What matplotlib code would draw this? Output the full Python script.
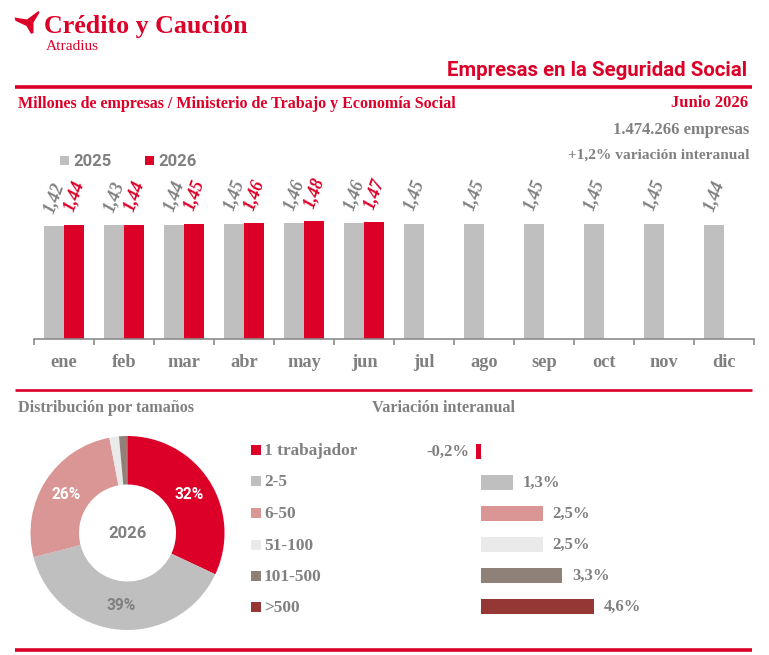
import matplotlib
matplotlib.use('Agg')
import matplotlib.pyplot as plt
from matplotlib.patches import Rectangle, Polygon
from matplotlib.lines import Line2D
from matplotlib.transforms import blended_transform_factory
import numpy as np

# ---------------- data ----------------
months = ['ene', 'feb', 'mar', 'abr', 'may', 'jun', 'jul', 'ago', 'sep', 'oct', 'nov', 'dic']
v2025 = [1.42, 1.43, 1.44, 1.45, 1.46, 1.46, 1.45, 1.45, 1.45, 1.45, 1.45, 1.44]
v2026 = [1.44, 1.44, 1.45, 1.46, 1.48, 1.47]
series_names = ['2025', '2026']
size_labels = ['1 trabajador', '2-5', '6-50', '51-100', '101-500', '>500']
size_share = [32, 39, 26, 1.6, 1.2, 0.2]
size_var = [-0.2, 1.3, 2.5, 2.5, 3.3, 4.6]
pie_center_label = '2026'

# ---------------- style ----------------
RED = '#DC0028'
GRAY_BAR = '#BFBFBF'
TXT = '#808080'
AXIS = '#8C8C8C'
size_colors = ['#DC0028', '#BFBFBF', '#D99694', '#EAEAEA', '#8F8078', '#953735']
SERIF = ['Liberation Serif', 'DejaVu Serif']
SANS = ['Roboto', 'DejaVu Sans']

W, H = 769, 655
fig = plt.figure(figsize=(W / 100, H / 100), dpi=100)
fig.patch.set_facecolor('white')
renderer = fig.canvas.get_renderer()


def fx(x):
    return x / W


def fy(y):
    return 1 - y / H


def ax_rect(l, t, r, b):
    return [l / W, 1 - b / H, (r - l) / W, (b - t) / H]


def ftext(x, y, s, target_w=None, size=10, **kw):
    t = fig.text(fx(x), fy(y), s, fontsize=size, **kw)
    if target_w:
        w = t.get_window_extent(renderer).width
        t.set_fontsize(size * target_w / w)
    return t


def hline(y, lw):
    fig.add_artist(Line2D([fx(15), fx(752)], [fy(y), fy(y)], color=RED, lw=lw,
                          solid_capstyle='butt'))


# ---------------- header ----------------
logo = [(14.5, 17.5), (27, 19.5), (38.5, 11), (39.5, 12.5), (33.5, 22.5), (33.5, 33),
        (31, 33.8), (26.5, 26), (15.5, 20.8)]
fig.add_artist(Polygon([(fx(a), fy(b)) for a, b in logo], closed=True,
                       transform=fig.transFigure, color=RED, lw=0))
ftext(44, 33, 'Crédito y Caución', 204, family=SERIF, weight='bold', color=RED, va='baseline')
ftext(46, 50, 'Atradius', 53, family=SERIF, color=RED, va='baseline')
ftext(747, 76, 'Empresas en la Seguridad Social', 300, family=SANS, weight='bold',
      color=RED, ha='right', va='baseline')
hline(87, 2.6)
ftext(18, 108, 'Millones de empresas / Ministerio de Trabajo y Economía Social', 438,
      family=SERIF, weight='bold', color=RED, va='baseline')
ftext(748, 107, 'Junio 2026', 77, family=SERIF, weight='bold', color=RED, ha='right', va='baseline')
ftext(749, 134, '1.474.266 empresas', 136, family=SERIF, weight='bold', color=TXT,
      ha='right', va='baseline')
ftext(749, 159, '+1,2% variación interanual', 181, family=SERIF, weight='bold', color=TXT,
      ha='right', va='baseline')

# legend of bar chart
for (sx, tx), c, name in zip([(60, 73), (145, 158)], [GRAY_BAR, RED], series_names):
    fig.add_artist(Rectangle((fx(sx), fy(165)), 9 / W, 9 / H, transform=fig.transFigure,
                             color=c, lw=0))
    ftext(tx, 165.5, name, 38, family=SANS, weight='bold', color=TXT, va='baseline')

# ---------------- bar chart ----------------
ax = fig.add_axes(ax_rect(34, 170, 754, 339))
x = np.arange(len(months))
bw = 1 / 3
ax.bar(x - bw / 2, v2025, bw, color=GRAY_BAR, lw=0)
x26 = np.arange(len(v2026))
ax.bar(x26 + bw / 2, v2026, bw, color=RED, lw=0)
ax.set_xlim(-0.5, len(months) - 0.5)
ax.set_ylim(0, 2.126)
for s in ['top', 'right', 'left']:
    ax.spines[s].set_visible(False)
ax.spines['bottom'].set_color(AXIS)
ax.spines['bottom'].set_linewidth(1.2)
ax.set_yticks([])
ax.set_xticks(np.arange(-0.5, len(months), 1))
ax.set_xticklabels([])
ax.tick_params(axis='x', direction='out', length=4, width=1.2, color=AXIS)
tr = blended_transform_factory(ax.transData, ax.transAxes)
for i, m in enumerate(months):
    ax.text(i, -(367 - 339) / 169, m, transform=tr, ha='center', va='baseline',
            family=SERIF, weight='bold', color=TXT, fontsize=13.2)


def fmt2(v):
    return f'{v:.2f}'.replace('.', ',')


for i, v in enumerate(v2025):
    ax.annotate(fmt2(v), (i - bw / 2, v), xytext=(-4, 10), textcoords='offset points',
                rotation=70, rotation_mode='anchor', ha='left', va='center',
                family=SERIF, weight='bold', style='italic', color=TXT, fontsize=12.8)
for i, v in enumerate(v2026):
    ax.annotate(fmt2(v), (i + bw / 2, v), xytext=(-4, 10), textcoords='offset points',
                rotation=70, rotation_mode='anchor', ha='left', va='center',
                family=SERIF, weight='bold', style='italic', color=RED, fontsize=12.8)

hline(390, 1.9)

# ---------------- donut ----------------
ftext(18, 412, 'Distribución por tamaños', 177, family=SERIF, weight='bold', color=TXT, va='baseline')
ftext(372, 412, 'Variación interanual', 144, family=SERIF, weight='bold', color=TXT, va='baseline')

cx, cy, R = 127.5, 533, 97
pad = 103
axp = fig.add_axes(ax_rect(cx - pad, cy - pad, cx + pad, cy + pad))
wedges, texts, autotexts = axp.pie(
    size_share, colors=size_colors, startangle=90, counterclock=False,
    wedgeprops=dict(width=0.5, lw=0), pctdistance=0.75,
    autopct=lambda p: f'{p:.0f}%' if p > 5 else '',
    textprops=dict(family=SANS, weight='bold', fontsize=11.2))
for t, c in zip(autotexts, ['white', TXT, 'white', TXT, TXT, TXT]):
    t.set_color(c)
axp.set_xlim(-pad / R, pad / R)
axp.set_ylim(-pad / R, pad / R)
axp.set_aspect('equal')
axp.axis('off')
axp.text(0, 0, pie_center_label, ha='center', va='center', family=SANS, weight='bold',
         color=TXT, fontsize=12)

row_y = [450, 481, 513, 544.5, 576, 607]
for yc, c, lab in zip(row_y, size_colors, size_labels):
    fig.add_artist(Rectangle((fx(251), fy(yc + 5)), 10 / W, 10 / H, transform=fig.transFigure,
                             color=c, lw=0))
    ftext(264, yc + 1, lab, None, 12.4, family=SERIF, weight='bold', color=TXT, va='center')

# ---------------- variation bars ----------------
scale = 24.6
axv = fig.add_axes(ax_rect(380, 436.2, 700, 622))
axv.barh(np.arange(len(size_var)), size_var, height=0.5, color=size_colors, lw=0)
axv.set_xlim((380 - 481) / scale, (700 - 481) / scale)
axv.set_ylim(len(size_var) - 0.5, -0.5)
axv.axis('off')
for i, v in enumerate(size_var):
    s = f'{v:.1f}%'.replace('.', ',')
    if v >= 0:
        axv.annotate(s, (v, i), xytext=(7, 0), textcoords='offset points', ha='left',
                     va='center', family=SERIF, weight='bold', color=TXT, fontsize=12)
    else:
        axv.annotate(s, (v, i), xytext=(-5, 0), textcoords='offset points', ha='right',
                     va='center', family=SERIF, weight='bold', color=TXT, fontsize=12)

hline(650, 2.6)

fig.savefig('out.png', dpi=100, facecolor='white')
